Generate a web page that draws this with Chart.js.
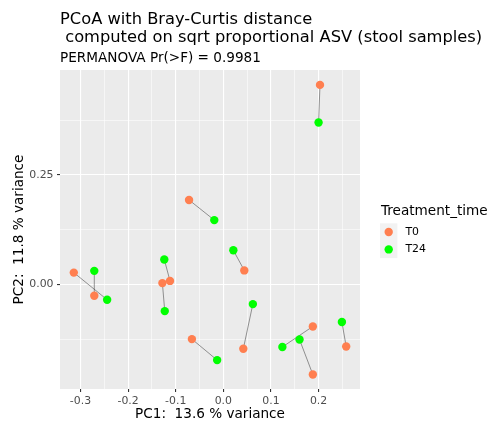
<!DOCTYPE html>
<html>
<head>
<meta charset="utf-8">
<script src="https://cdn.jsdelivr.net/npm/chart.js@4.4.1/dist/chart.umd.min.js"></script>
<style>
  html, body { margin: 0; padding: 0; background: #fff; }
  canvas { display: block; }
</style>
</head>
<body>
<canvas id="pcoaChart" width="491" height="423"></canvas>
<script>
// PCoA scores per subject; t0[i] and t24[i] are the same subject
const t0X  = [0.203, -0.072, 0.044, -0.314, -0.271, -0.112, -0.128, 0.042, -0.066, 0.188, 0.188, 0.258];
const t0Y  = [0.456, 0.193, 0.032, 0.027, -0.026, 0.008, 0.003, -0.147, -0.125, -0.096, -0.206, -0.142];
const t24X = [0.200, -0.019, 0.021, -0.244, -0.271, -0.124, -0.123, 0.062, -0.013, 0.124, 0.160, 0.249];
const t24Y = [0.370, 0.147, 0.078, -0.035, 0.031, 0.057, -0.061, -0.045, -0.173, -0.143, -0.126, -0.086];

const groupLabels = ['T0', 'T24'];
const groupColors = ['#FF7F50', '#00FF00'];

const xTicks = [-0.3, -0.2, -0.1, 0.0, 0.1, 0.2];
const xTickLabels = ['-0.3', '-0.2', '-0.1', '0.0', '0.1', '0.2'];
const yTicks = [0.0, 0.25];
const yTickLabels = ['0.00', '0.25'];

const toPoints = (xs, ys) => xs.map((x, i) => ({ x: x, y: ys[i] }));

// one broken polyline joining each subject's two time points
const pairSegments = [];
t0X.forEach((x, i) => {
  pairSegments.push({ x: x, y: t0Y[i] });
  pairSegments.push({ x: t24X[i], y: t24Y[i] });
  pairSegments.push({ x: null, y: null });
});

// major ticks carry labels, minor ones sit halfway between (ggplot style)
function gridTicks(scale, majors, labels, step) {
  const out = [];
  majors.forEach((v, i) => out.push({ value: v, isMajor: true, text: labels[i] }));
  const minors = majors.map(v => v + step / 2).concat([majors[0] - step / 2]);
  minors.forEach(v => out.push({ value: v, isMajor: false, text: '' }));
  return out
    .filter(t => t.value >= scale.min && t.value <= scale.max)
    .sort((a, b) => a.value - b.value);
}

Chart.defaults.font.family = "'DejaVu Sans', sans-serif";

const gridStyle = {
  color: '#FFFFFF',
  lineWidth: c => (c.tick && c.tick.isMajor ? 1.1 : 0.55),
  tickColor: c => (c.tick && c.tick.isMajor ? '#333333' : 'rgba(0,0,0,0)'),
  tickWidth: 1.1,
  tickLength: 3,
  drawTicks: true
};

const tickStyle = {
  autoSkip: false,
  maxRotation: 0,
  color: '#4D4D4D',
  font: { size: 10.9 },
  callback: (v, i, ticks) => ticks[i].text
};

// grey panel + white page
const panelBg = {
  id: 'panelBg',
  beforeDraw(chart) {
    const { ctx, chartArea: a } = chart;
    ctx.save();
    ctx.fillStyle = '#FFFFFF';
    ctx.fillRect(0, 0, chart.width, chart.height);
    ctx.fillStyle = '#EBEBEB';
    ctx.fillRect(a.left, a.top, a.right - a.left, a.bottom - a.top);
    ctx.restore();
  }
};

// title + subtitle start at the panel's left edge
const titleShift = {
  id: 'titleShift',
  afterLayout(chart) {
    chart.boxes.forEach(b => {
      if (b.options && b.options.position === 'top' && !b.axis) {
        b.left = chart.chartArea.left;
        b.right = chart.width;
      }
    });
  }
};

// legend with grey key boxes on the right
const ggLegend = {
  id: 'ggLegend',
  afterDraw(chart) {
    const { ctx, chartArea: a } = chart;
    const mid = (a.top + a.bottom) / 2;
    const x0 = a.right + 20;
    const key = 17.4;
    const top = mid - 6.2;
    ctx.save();
    ctx.fillStyle = '#000000';
    ctx.font = "13.6px 'DejaVu Sans', sans-serif";
    ctx.textBaseline = 'alphabetic';
    ctx.fillText('Treatment_time', x0 + 1, mid - 14.5);
    ctx.fillStyle = '#F2F2F2';
    ctx.fillRect(x0, top, key, key * 2);
    chart.data.datasets.slice(0, 2).forEach((ds, i) => {
      const cy = top + key * i + key / 2;
      ctx.beginPath();
      ctx.arc(x0 + key / 2, cy, 4.2, 0, Math.PI * 2);
      ctx.fillStyle = ds.backgroundColor;
      ctx.fill();
      ctx.fillStyle = '#000000';
      ctx.font = "10.9px 'DejaVu Sans', sans-serif";
      ctx.textBaseline = 'middle';
      ctx.fillText(ds.label, x0 + key + 8, cy);
    });
    ctx.restore();
  }
};

new Chart(document.getElementById('pcoaChart'), {
  type: 'scatter',
  data: {
    datasets: [
      {
        label: groupLabels[0],
        data: toPoints(t0X, t0Y),
        backgroundColor: groupColors[0],
        borderWidth: 0,
        pointRadius: 4.2,
        pointHoverRadius: 4.2,
        order: 1
      },
      {
        label: groupLabels[1],
        data: toPoints(t24X, t24Y),
        backgroundColor: groupColors[1],
        borderWidth: 0,
        pointRadius: 4.2,
        pointHoverRadius: 4.2,
        order: 2
      },
      {
        label: 'pairs',
        data: pairSegments,
        showLine: true,
        spanGaps: false,
        borderColor: 'rgba(40,40,40,0.8)',
        borderWidth: 0.6,
        pointRadius: 0,
        order: 5
      }
    ]
  },
  options: {
    responsive: false,
    animation: false,
    layout: { padding: { left: 0, right: 131, top: 0, bottom: 0 } },
    plugins: {
      legend: { display: false },
      tooltip: { enabled: false },
      title: {
        display: true,
        align: 'start',
        text: ['PCoA with Bray-Curtis distance', ' computed on sqrt proportional ASV (stool samples)'],
        color: '#000000',
        font: { size: 16.3, weight: 'normal', lineHeight: 1.147 },
        padding: { top: 10, bottom: 3.1 }
      },
      subtitle: {
        display: true,
        align: 'start',
        text: 'PERMANOVA Pr(>F) = 0.9981',
        color: '#000000',
        font: { size: 13.6, weight: 'normal', lineHeight: 1.2 },
        padding: { top: 0, bottom: 3.2 }
      }
    },
    scales: {
      x: {
        type: 'linear',
        min: -0.343,
        max: 0.287,
        afterBuildTicks: s => { s.ticks = gridTicks(s, xTicks, xTickLabels, 0.1); },
        afterFit: s => { s.height = 34; },
        ticks: Object.assign({ padding: 2.2 }, tickStyle),
        grid: gridStyle,
        border: { display: false },
        title: {
          display: true,
          text: 'PC1:  13.6 % variance',
          color: '#000000',
          font: { size: 13.6 },
          padding: { top: 0, bottom: 0.3 }
        }
      },
      y: {
        type: 'linear',
        min: -0.239,
        max: 0.490,
        afterBuildTicks: s => { s.ticks = gridTicks(s, yTicks, yTickLabels, 0.25); },
        afterFit: s => { s.width = 60; },
        ticks: Object.assign({ padding: 3.5 }, tickStyle),
        grid: gridStyle,
        border: { display: false },
        title: {
          display: true,
          text: 'PC2:  11.8 % variance',
          color: '#000000',
          font: { size: 13.6 },
          padding: { top: 11.7, bottom: 0 }
        }
      }
    }
  },
  plugins: [panelBg, titleShift, ggLegend]
});
</script>
</body>
</html>
